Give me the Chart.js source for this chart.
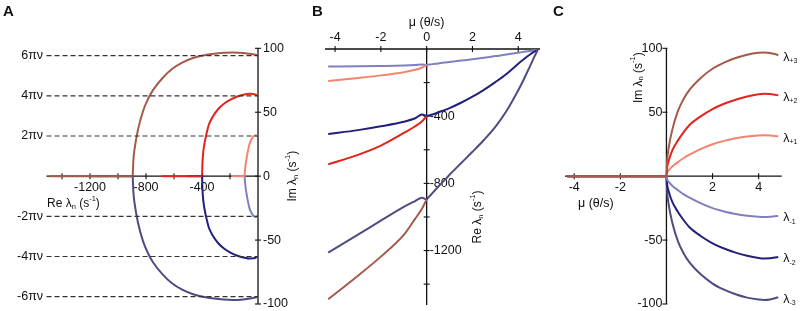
<!DOCTYPE html>
<html><head><meta charset="utf-8">
<script src="https://cdn.jsdelivr.net/npm/chart.js@4/dist/chart.umd.min.js"></script>
<style>
html,body{margin:0;padding:0;background:#fff;width:800px;height:311px;overflow:hidden}
canvas{position:absolute;left:0;top:0}
</style></head><body>
<canvas id="ca" width="800" height="311"></canvas>
<canvas id="cb" width="800" height="311"></canvas>
<canvas id="cc" width="800" height="311"></canvas>
<script>
// ---- data ----
const MU_NEG = [-4.3, -3, -2, -1, -0.5, -0.2, 0];
const MU_POS = [0, 0.03, 0.1, 0.25, 0.5, 0.75, 1, 1.5, 2, 2.5, 3, 3.5, 4, 4.25, 4.5, 4.7, 4.85];
// real eigenvalues for mu < 0 (upper / lower branch of each pair)
const UPPER1 = [-104, -103, -101, -98, -95, -92, -95];
const LOWER1 = [-190, -172, -157, -138, -124, -110, -95];
const UPPER2 = [-506, -483, -460, -433, -412, -390, -399];
const LOWER2 = [-687, -630, -575, -500, -460, -430, -399];
const UPPER3 = [-1212, -1105, -1022, -940, -905, -885, -895];
const LOWER3 = [-1490, -1350, -1236, -1107, -1010, -950, -895];
// complex pairs for mu > 0 (real part, imaginary part)
const RE1 = [-95, -94.5, -93, -90, -86, -81, -77, -69, -61, -52, -42, -33, -22, -17, -12, -8, -6];
const RE2 = [-399, -398, -396, -390, -378, -365, -352, -320, -284, -243, -197, -147, -88, -60, -34, -16, -6];
const RE3 = [-895, -890.5, -880, -858, -821, -785, -749, -680, -612, -541.5, -463.5, -366, -246, -178.5, -106, -47, -6];
const IM1 = [0, 2.5, 4.5, 7.5, 11, 14.2, 16.8, 21.3, 25, 27.6, 29.6, 31, 31.8, 32, 31.8, 31.4, 31.2];
const IM2 = [0, 6.5, 12, 20, 28, 34.5, 40, 47, 52.5, 56.6, 59.8, 62.3, 64, 64.4, 64.3, 63.7, 63.2];
const IM3 = [0, 12, 22.5, 36, 51, 60.5, 67.5, 77, 84, 88.8, 92.4, 95, 96.5, 96.8, 96.4, 95.5, 94.6];
const IM_NEG = [0, 0, 0, 0, 0, 0, 0];
const NU = 5;
const LEVELS = [1, 2, 3];
// ticks
const A_XTICKS = [-1400, -1200, -1000, -800, -600, -400, -200];
const A_XLABELS = [-1200, -800, -400];
const A_YTICKS = [-100, -50, 0, 50, 100];
const B_XTICKS = [-4, -2, 0, 2, 4];
const B_YTICKS = [-200, -400, -600, -800, -1000, -1200, -1400];
const B_YLABELS = [-400, -800, -1200];
const C_XTICKS = [-4, -2, 2, 4];
const C_YTICKS = [-100, -50, 50, 100];
const CURVE_LABELS = ['+3', '+2', '+1', '-1', '-2', '-3'];

const COL = {p3: '#a45a4b', p2: '#e3241d', p1: '#f3846e', m1: '#8080c0', m2: '#22207a', m3: '#4d4c83'};
const FONT = '"Liberation Sans", Arial, Helvetica, sans-serif';
const FS = 12.5;

function rich(ctx, parts, x, y, align, rot) {
  ctx.save();
  ctx.translate(x, y);
  if (rot) ctx.rotate(rot);
  let w = 0;
  for (const p of parts) { ctx.font = p[1] + 'px ' + FONT; w += ctx.measureText(p[0]).width; }
  let cx = align === 'center' ? -w / 2 : (align === 'right' ? -w : 0);
  ctx.textBaseline = 'middle'; ctx.textAlign = 'left'; ctx.fillStyle = '#111';
  for (const p of parts) {
    ctx.font = p[1] + 'px ' + FONT;
    ctx.fillText(p[0], cx, p[2] || 0);
    cx += ctx.measureText(p[0]).width;
  }
  ctx.restore();
}
function txt(ctx, s, x, y, align, size, bold) {
  ctx.save();
  ctx.font = (bold ? 'bold ' : '') + (size || FS) + 'px ' + FONT;
  ctx.textAlign = align; ctx.textBaseline = 'middle'; ctx.fillStyle = '#111';
  ctx.fillText(s, x, y);
  ctx.restore();
}
function line(ctx, x1, y1, x2, y2, w) {
  ctx.save(); ctx.strokeStyle = '#111'; ctx.lineWidth = w || 1.3;
  ctx.beginPath(); ctx.moveTo(x1, y1); ctx.lineTo(x2, y2); ctx.stroke(); ctx.restore();
}
const RE_TITLE = [['Re λ', 12], ['n', 7.5, 3], [' (s', 12], ['-1', 7.5, -5], [')', 12]];
const IM_TITLE = [['Im λ', 12], ['n', 7.5, 3], [' (s', 12], ['-1', 7.5, -5], [')', 12]];
const MU_TITLE = [['μ (θ/s)', 12.5]];

function pts(xs, ys, sign) { return xs.map((x, i) => ({x: x, y: (sign || 1) * ys[i]})); }
function ds(data, color, extra) {
  return Object.assign({data: data, borderColor: color, backgroundColor: color, borderWidth: 2,
    pointRadius: 0, showLine: true, cubicInterpolationMode: 'monotone', fill: false, clip: false}, extra || {});
}
function baseOpts(pad, xr, yr, plugin) {
  return {
    type: 'scatter',
    options: {
      responsive: false, animation: false, devicePixelRatio: 1,
      layout: {padding: pad},
      plugins: {legend: {display: false}, tooltip: {enabled: false}},
      scales: {
        x: {type: 'linear', min: xr[0], max: xr[1], display: false},
        y: {type: 'linear', min: yr[0], max: yr[1], display: false}
      }
    },
    plugins: [plugin]
  };
}

// ---------- Panel A ----------
(function () {
  const xr = [-1511, 0], yr = [-100, 100];
  const datasets = [];
  for (const n of LEVELS) {
    for (const s of [1, -1]) {
      const v = s * 2 * Math.PI * NU * n;
      datasets.push(ds([{x: xr[0], y: v}, {x: 0, y: v}], '#333', {borderWidth: 1.2, borderDash: [5, 3], cubicInterpolationMode: 'default', tension: 0}));
    }
  }
  const pairs = [[LOWER3, UPPER3, COL.p3, COL.m3], [LOWER2, UPPER2, COL.p2, COL.m2], [LOWER1, UPPER1, COL.p1, COL.m1]];
  for (const [lo, up, cl, cu] of pairs) {
    datasets.push(ds([{x: Math.min(...lo), y: 0}, {x: Math.max(...lo), y: 0}], cl, {cubicInterpolationMode: 'default', tension: 0}));
    datasets.push(ds([{x: Math.min(...up), y: 0}, {x: Math.max(...up), y: 0}], cu, {cubicInterpolationMode: 'default', tension: 0}));
  }
  datasets.push(ds(pts(RE3, IM3), COL.p3));
  datasets.push(ds(pts(RE2, IM2), COL.p2));
  datasets.push(ds(pts(RE1, IM1), COL.p1));
  datasets.push(ds(pts(RE1, IM1, -1), COL.m1));
  datasets.push(ds(pts(RE2, IM2, -1), COL.m2));
  datasets.push(ds(pts(RE3, IM3, -1), COL.m3));
  const plugin = {
    id: 'axesA',
    beforeDatasetsDraw(chart) {
      const ctx = chart.ctx, X = chart.scales.x, Y = chart.scales.y;
      const x0 = X.getPixelForValue(0), y0 = Y.getPixelForValue(0);
      line(ctx, x0, Y.getPixelForValue(100), x0, Y.getPixelForValue(-100));
      for (const t of A_YTICKS) { const y = Y.getPixelForValue(t); line(ctx, x0 - 3, y, x0 + 3, y, 1.1); txt(ctx, String(t), x0 + 5, y, 'left'); }
      line(ctx, X.getPixelForValue(xr[0]), y0, x0, y0);
      for (const t of A_XTICKS) { const x = X.getPixelForValue(t); line(ctx, x, y0 - 3, x, y0 + 3, 1.1); }
      for (const t of A_XLABELS) txt(ctx, String(t), X.getPixelForValue(t), y0 + 11, 'center');
      rich(ctx, RE_TITLE, 47, y0 + 28, 'left');
      rich(ctx, IM_TITLE, x0 + 35, y0, 'center', -Math.PI / 2);
      for (const n of LEVELS) {
        for (const s of [1, -1]) {
          const y = Y.getPixelForValue(s * 2 * Math.PI * NU * n);
          txt(ctx, (s < 0 ? '-' : '') + (2 * n) + 'πν', 43, y, 'right');
        }
      }
      txt(ctx, 'A', 3, 12, 'left', 15, true);
    }
  };
  const cfg = baseOpts({left: 46.5, right: 800 - 258, top: 48.3, bottom: 311 - 304}, xr, yr, plugin);
  cfg.data = {datasets: datasets};
  new Chart(document.getElementById('ca'), cfg);
})();

// ---------- Panel B ----------
(function () {
  const xr = [-4.44, 4.95], yr = [-1524, 0];
  const join = (neg, pos) => neg.concat(pos.slice(1));
  const muAll = join(MU_NEG, MU_POS);
  const datasets = [
    ds(pts(MU_NEG, LOWER3), COL.p3),
    ds(pts(muAll, join(UPPER3, RE3)), COL.m3),
    ds(pts(MU_NEG, LOWER2), COL.p2),
    ds(pts(muAll, join(UPPER2, RE2)), COL.m2),
    ds(pts(MU_NEG, LOWER1), COL.p1),
    ds(pts(muAll, join(UPPER1, RE1)), COL.m1)
  ];
  const plugin = {
    id: 'axesB',
    beforeDatasetsDraw(chart) {
      const ctx = chart.ctx, X = chart.scales.x, Y = chart.scales.y;
      const x0 = X.getPixelForValue(0), y0 = Y.getPixelForValue(0);
      line(ctx, X.getPixelForValue(xr[0]), y0, X.getPixelForValue(xr[1]), y0);
      for (const t of B_XTICKS) { const x = X.getPixelForValue(t); line(ctx, x, y0 - 3, x, y0 + 3, 1.1); txt(ctx, String(t), x, y0 - 11, 'center'); }
      rich(ctx, MU_TITLE, x0, y0 - 26, 'center');
      line(ctx, x0, y0, x0, Y.getPixelForValue(yr[0]));
      for (const t of B_YTICKS) { const y = Y.getPixelForValue(t); line(ctx, x0 - 3, y, x0 + 3, y, 1.1); }
      for (const t of B_YLABELS) txt(ctx, String(t), x0 + 3, Y.getPixelForValue(t), 'left');
      rich(ctx, RE_TITLE, x0 + 51, Y.getPixelForValue(-1000), 'center', -Math.PI / 2);
      txt(ctx, 'B', 312, 12, 'left', 15, true);
    }
  };
  const cfg = baseOpts({left: 325, right: 800 - 540, top: 49, bottom: 311 - 305}, xr, yr, plugin);
  cfg.data = {datasets: datasets};
  new Chart(document.getElementById('cb'), cfg);
})();

// ---------- Panel C ----------
(function () {
  const xr = [-4.4, 5.0], yr = [-100, 100];
  const muAll = MU_NEG.concat(MU_POS.slice(1));
  const im = (arr, s) => IM_NEG.concat(arr.slice(1).map(v => s * v));
  const series = [[IM3, 1, COL.p3], [IM2, 1, COL.p2], [IM1, 1, COL.p1], [IM1, -1, COL.m1], [IM2, -1, COL.m2], [IM3, -1, COL.m3]];
  const datasets = series.map(([a, s, c]) => ds(pts(muAll, im(a, s)), c));
  const plugin = {
    id: 'axesC',
    beforeDatasetsDraw(chart) {
      const ctx = chart.ctx, X = chart.scales.x, Y = chart.scales.y;
      const x0 = X.getPixelForValue(0), y0 = Y.getPixelForValue(0);
      line(ctx, x0, Y.getPixelForValue(100), x0, Y.getPixelForValue(-100));
      for (const t of C_YTICKS) { const y = Y.getPixelForValue(t); line(ctx, x0 - 4, y, x0 + 1, y, 1.1); txt(ctx, String(t), x0 - 4, y, 'right'); }
      line(ctx, X.getPixelForValue(xr[0]), y0, X.getPixelForValue(xr[1]), y0);
      for (const t of C_XTICKS) { const x = X.getPixelForValue(t); line(ctx, x, y0 - 3, x, y0 + 3, 1.1); txt(ctx, String(t), x, y0 + 11, 'center'); }
      rich(ctx, MU_TITLE, 578, y0 + 27, 'left');
      rich(ctx, IM_TITLE, x0 - 28, Y.getPixelForValue(77), 'center', -Math.PI / 2);
      txt(ctx, 'C', 553, 12, 'left', 15, true);
    },
    afterDatasetsDraw(chart) {
      const ctx = chart.ctx, X = chart.scales.x, Y = chart.scales.y;
      const last = MU_POS.length - 1;
      series.forEach(([a, s], i) => {
        const y = Y.getPixelForValue(s * a[last]) + 2;
        rich(ctx, [['λ', FS], [CURVE_LABELS[i], 7, 4]], X.getPixelForValue(MU_POS[last]) + 5, y, 'left');
      });
    }
  };
  const cfg = baseOpts({left: 565, right: 800 - 781.7, top: 48.3, bottom: 311 - 304}, xr, yr, plugin);
  cfg.data = {datasets: datasets};
  new Chart(document.getElementById('cc'), cfg);
})();
</script>
</body></html>
